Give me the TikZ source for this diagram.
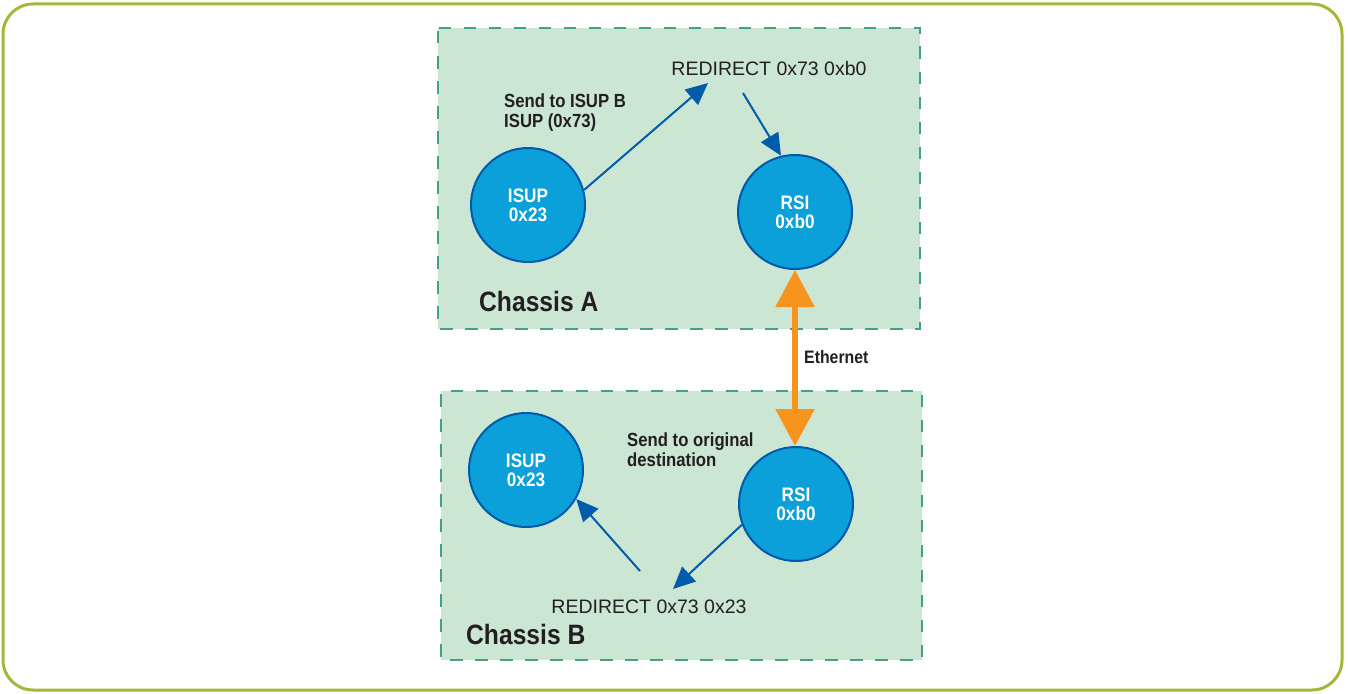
\documentclass[tikz,border=0pt]{standalone}
\usepackage{fontspec}
\setmainfont{Liberation Sans}
\newfontfamily\cnfont[FakeStretch=0.88]{Liberation Sans}
\usetikzlibrary{arrows.meta}
\definecolor{olive}{HTML}{A9B43C}
\definecolor{boxfill}{HTML}{CCE6D4}
\definecolor{boxline}{HTML}{45A088}
\definecolor{circfill}{HTML}{0CA0DA}
\definecolor{circline}{HTML}{005AAA}
\definecolor{arrblue}{HTML}{005BAA}
\definecolor{eth}{HTML}{F7941E}
\definecolor{txt}{HTML}{231F20}
\tikzset{
  chassis/.style={draw=boxline, fill=boxfill, line width=2.6pt, dash pattern=on 12.5pt off 12.5pt, dash phase=22pt},
  proc/.style={circle, draw=circline, fill=circfill, line width=2pt, minimum size=114pt, inner sep=0pt,
    text=white, align=center, font=\cnfont\bfseries\fontsize{19.5}{19}\selectfont},
  bold/.style={text=txt, align=left, inner sep=0pt, font=\cnfont\bfseries\fontsize{19}{20}\selectfont},
  title/.style={text=txt, inner sep=0pt, anchor=west, font=\cnfont\bfseries\fontsize{28}{28}\selectfont},
  cmd/.style={text=txt, inner sep=0pt, font=\fontsize{19.5}{20}\selectfont},
  msg/.style={draw=arrblue, line width=2pt, -{Triangle[length=22pt,width=20pt]}},
  ethline/.style={draw=eth, line width=5.5pt, {Triangle[length=37pt,width=38pt]}-{Triangle[length=37pt,width=38pt]}}
}
\begin{document}
\begin{tikzpicture}[x=1pt,y=-1pt]
\useasboundingbox (0,0) rectangle (1348,693);
\draw[olive, line width=3pt, rounded corners=30pt] (3,4) rectangle (1342,690);
% chassis boxes
\path[chassis] (438,28) rectangle (920,329);
\path[chassis] (441,391) rectangle (922,660);
% nodes
\node[proc] (isupA) at (528,205) {ISUP\\0x23};
\node[proc] (rsiA) at (795,212) {RSI\\0xb0};
\node[proc] (isupB) at (526,470) {ISUP\\0x23};
\node[proc] (rsiB) at (796,504) {RSI\\0xb0};
\node[cmd] (redA) at (769,69) {REDIRECT 0x73 0xb0};
\node[cmd] (redB) at (649,607) {REDIRECT 0x73 0x23};
\node[bold, anchor=west] (sendA) at (504,113) {Send to ISUP B\\ISUP (0x73)};
\node[bold, anchor=west] (sendB) at (627,450) {Send to original\\destination};
\node[bold, anchor=west, font=\cnfont\bfseries\fontsize{18}{18}\selectfont] (ethlbl) at (804,357) {Ethernet};
\node[title] (chA) at (479,301) {Chassis A};
\node[title] (chB) at (466,634) {Chassis B};
% connector ends
\coordinate (tipA) at (708,83);
\coordinate (startA) at (743,93);
\coordinate (tipB) at (673,589);
\coordinate (startB) at (640,571);
% connectors
\draw[msg] (isupA.15) -- (tipA);
\draw[msg] (startA) -- (rsiA.104);
\draw[msg] (rsiB.201) -- (tipB);
\draw[msg] (startB) -- (isupB.330);
\draw[ethline] (rsiA.south) -- (rsiA.south |- rsiB.north);
\end{tikzpicture}
\end{document}
